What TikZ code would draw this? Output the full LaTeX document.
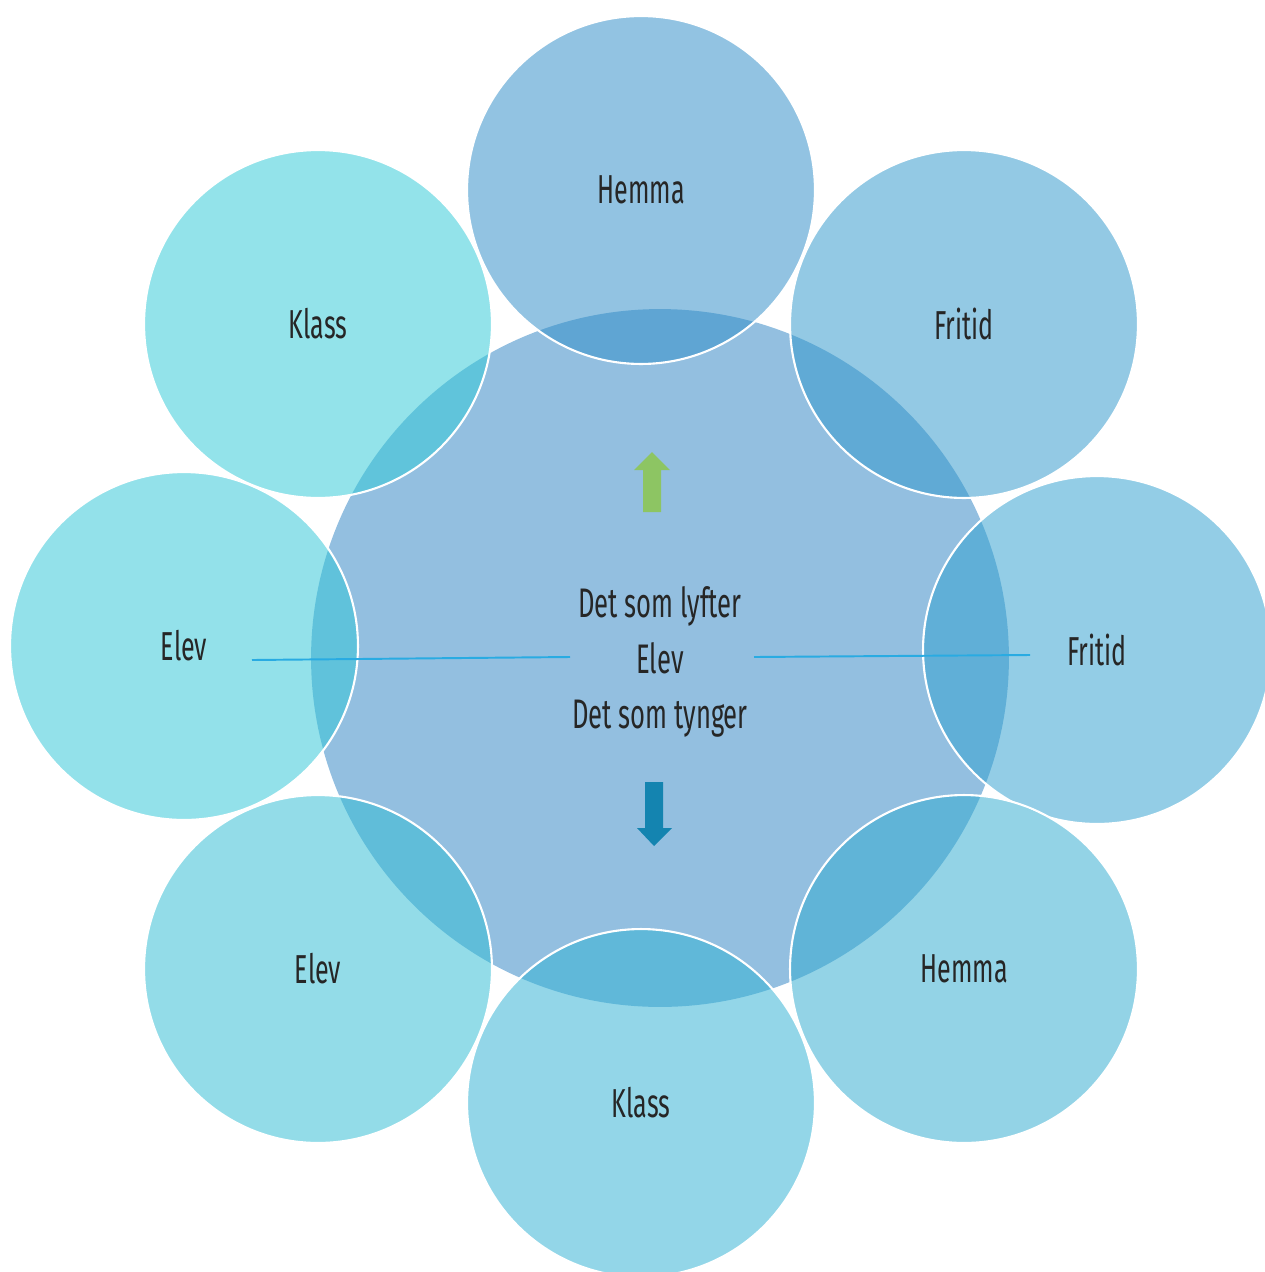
\documentclass[tikz,border=0pt]{standalone}
\usepackage{fontspec}
\setmainfont[FakeStretch=0.62]{Fira Sans}
\usetikzlibrary{positioning}

\definecolor{hubfill}{RGB}{147,191,224}
\definecolor{hemmatop}{RGB}{49,142,200}
\definecolor{fritidtop}{RGB}{51,153,204}
\definecolor{fritidright}{RGB}{51,161,208}
\definecolor{hemmabottom}{RGB}{51,172,208}
\definecolor{klassbottom}{RGB}{51,178,212}
\definecolor{elevbottom}{RGB}{51,189,212}
\definecolor{elevleft}{RGB}{51,198,215}
\definecolor{klasstop}{RGB}{51,202,215}
\definecolor{liftgreen}{RGB}{141,197,99}
\definecolor{sinkblue}{RGB}{20,132,176}
\definecolor{spoke}{RGB}{41,171,226}
\definecolor{labeltext}{RGB}{38,38,38}

\tikzset {
  % big circle in the middle
  hub/.style = {
    circle,
    fill = hubfill,
    minimum size = 13.96cm,
    inner sep = 0
  },
  % text in the middle
  hubtext/.style = {
    align = center,
    text = labeltext,
    inner sep = 0,
    font = \fontsize{23.5}{31.5}\selectfont
  },
  % circles round the hub
  ring/.style = {
    circle,
    draw = white,
    line width = 1.2pt,
    fill = #1,
    fill opacity = .53,
    text opacity = 1,
    minimum size = 6.96cm,
    inner sep = 0,
    text = labeltext,
    font = \fontsize{23}{31}\selectfont
  },
  % thin line through the hub
  spokeline/.style = {
    draw = spoke,
    line width = 1.1pt
  }
}

\begin{document}
\begin{tikzpicture}[x=0.02cm,y=-0.02cm]
    \useasboundingbox (0,0) rectangle (1265,1272);

    \node[hub] (hub) at (660,658) {};
    \node[hubtext] (hub text) at (660,662) {Det som lyfter\\Elev\\Det som tynger};

    % outer circles
    \node[ring=hemmatop] (hemma top) at (641,190) {Hemma};
    \node[ring=fritidtop] (fritid top) at (964,324) {Fritid};
    \node[ring=fritidright] (fritid right) at (1097,650) {Fritid};
    \node[ring=hemmabottom] (hemma bottom) at (964,969) {Hemma};
    \node[ring=klassbottom] (klass bottom) at (641,1103) {Klass};
    \node[ring=elevbottom] (elev bottom) at (318,969) {Elev};
    \node[ring=elevleft] (elev left) at (184,646) {Elev};
    \node[ring=klasstop] (klass top) at (318,324) {Klass};

    \coordinate (left-in) at (252,660);
    \coordinate (left-out) at (570,657);
    \coordinate (right-in) at (754,657);
    \coordinate (right-out) at (1030,655);

    % lines
    \draw[spokeline] (left-in) -- (left-out);
    \draw[spokeline] (right-in) -- (right-out);

    % arrows
    \fill[liftgreen] (643,512) -- (643,470) -- (634,470) -- (652,452)
      -- (670,470) -- (661,470) -- (661,512) -- cycle;
    \fill[sinkblue] (645,782) -- (663,782) -- (663,828) -- (672,828)
      -- (654,846) -- (637,828) -- (645,828) -- cycle;
\end{tikzpicture}
\end{document}
